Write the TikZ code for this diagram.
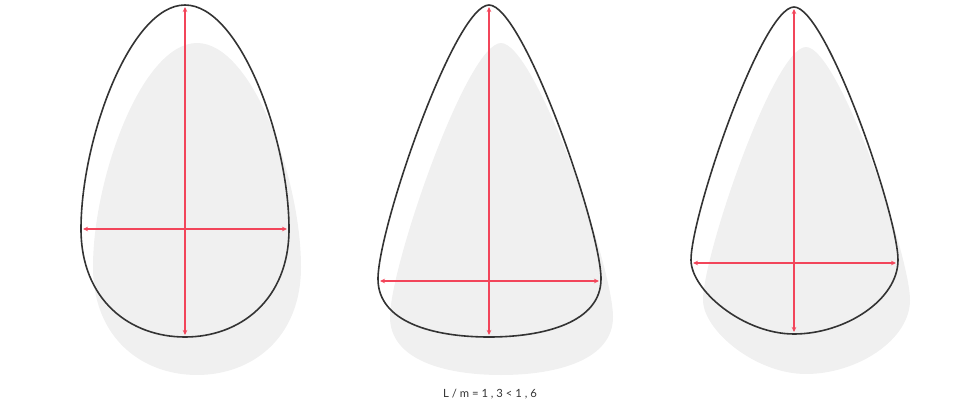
\documentclass[tikz,border=0pt]{standalone}
\usepackage{fontspec}
\setmainfont{Lato}
\usetikzlibrary{arrows.meta}
\definecolor{shadowgray}{HTML}{F0F0F0}
\definecolor{outline}{HTML}{333333}
\definecolor{dimred}{HTML}{F2455A}
\definecolor{txtgray}{HTML}{333333}
\tikzset{
  eggshadow/.style={fill=shadowgray, draw=none},
  eggline/.style={draw=outline, line width=1.6pt},
  dimline/.style={draw=dimred, line width=1.1pt, {Stealth[length=5pt,width=4.5pt]}-{Stealth[length=5pt,width=4.5pt]}},
  caption/.style={font=\fontsize{11.3pt}{13pt}\selectfont, text=txtgray}
}
\newcommand{\eggA}{(185,5) .. controls (240,5) and (289,140) .. (289,229) .. controls (289,300) and (240,337) .. (185,337) .. controls (130,337) and (81,300) .. (81,229) .. controls (81,140) and (130,5) .. (185,5) -- cycle}
\newcommand{\eggB}{(489,5) .. controls (523,5) and (601,228) .. (601,279) .. controls (601,322) and (545,337) .. (489,337) .. controls (433,337) and (378,322) .. (378,279) .. controls (378,228) and (455,5) .. (489,5) -- cycle}
\newcommand{\eggC}{(794,7) .. controls (826,7) and (898,215) .. (898,260) .. controls (898,300) and (845,334) .. (794,334) .. controls (743,334) and (691,290) .. (691,260) .. controls (691,215) and (762,7) .. (794,7) -- cycle}
\begin{document}
\begin{tikzpicture}[x=1pt,y=-1pt]
\useasboundingbox (0,0) rectangle (980,404);
% shadows
\begin{scope}[shift={(12,38)}]
  \path[eggshadow] \eggA;
  \path[eggshadow] \eggB;
\end{scope}
\begin{scope}[shift={(12,40)}]
  \path[eggshadow] \eggC;
\end{scope}
% outlines
\path[eggline] \eggA;
\path[eggline] \eggB;
\path[eggline] \eggC;
% dimension end points
\coordinate (a-top) at (185,7);
\coordinate (a-bot) at (185,335);
\coordinate (a-left) at (83,229);
\coordinate (a-right) at (287,229);
\coordinate (b-top) at (489,7);
\coordinate (b-bot) at (489,335);
\coordinate (b-left) at (380,281);
\coordinate (b-right) at (599,281);
\coordinate (c-top) at (794,9);
\coordinate (c-bot) at (794,332);
\coordinate (c-left) at (693,263);
\coordinate (c-right) at (896,263);
\draw[dimline] (a-top) -- (a-bot);
\draw[dimline] (a-left) -- (a-right);
\draw[dimline] (b-top) -- (b-bot);
\draw[dimline] (b-left) -- (b-right);
\draw[dimline] (c-top) -- (c-bot);
\draw[dimline] (c-left) -- (c-right);
\node[caption] (ratio) at (490,394) {L / m = 1 , 3 < 1 , 6};
\end{tikzpicture}
\end{document}
